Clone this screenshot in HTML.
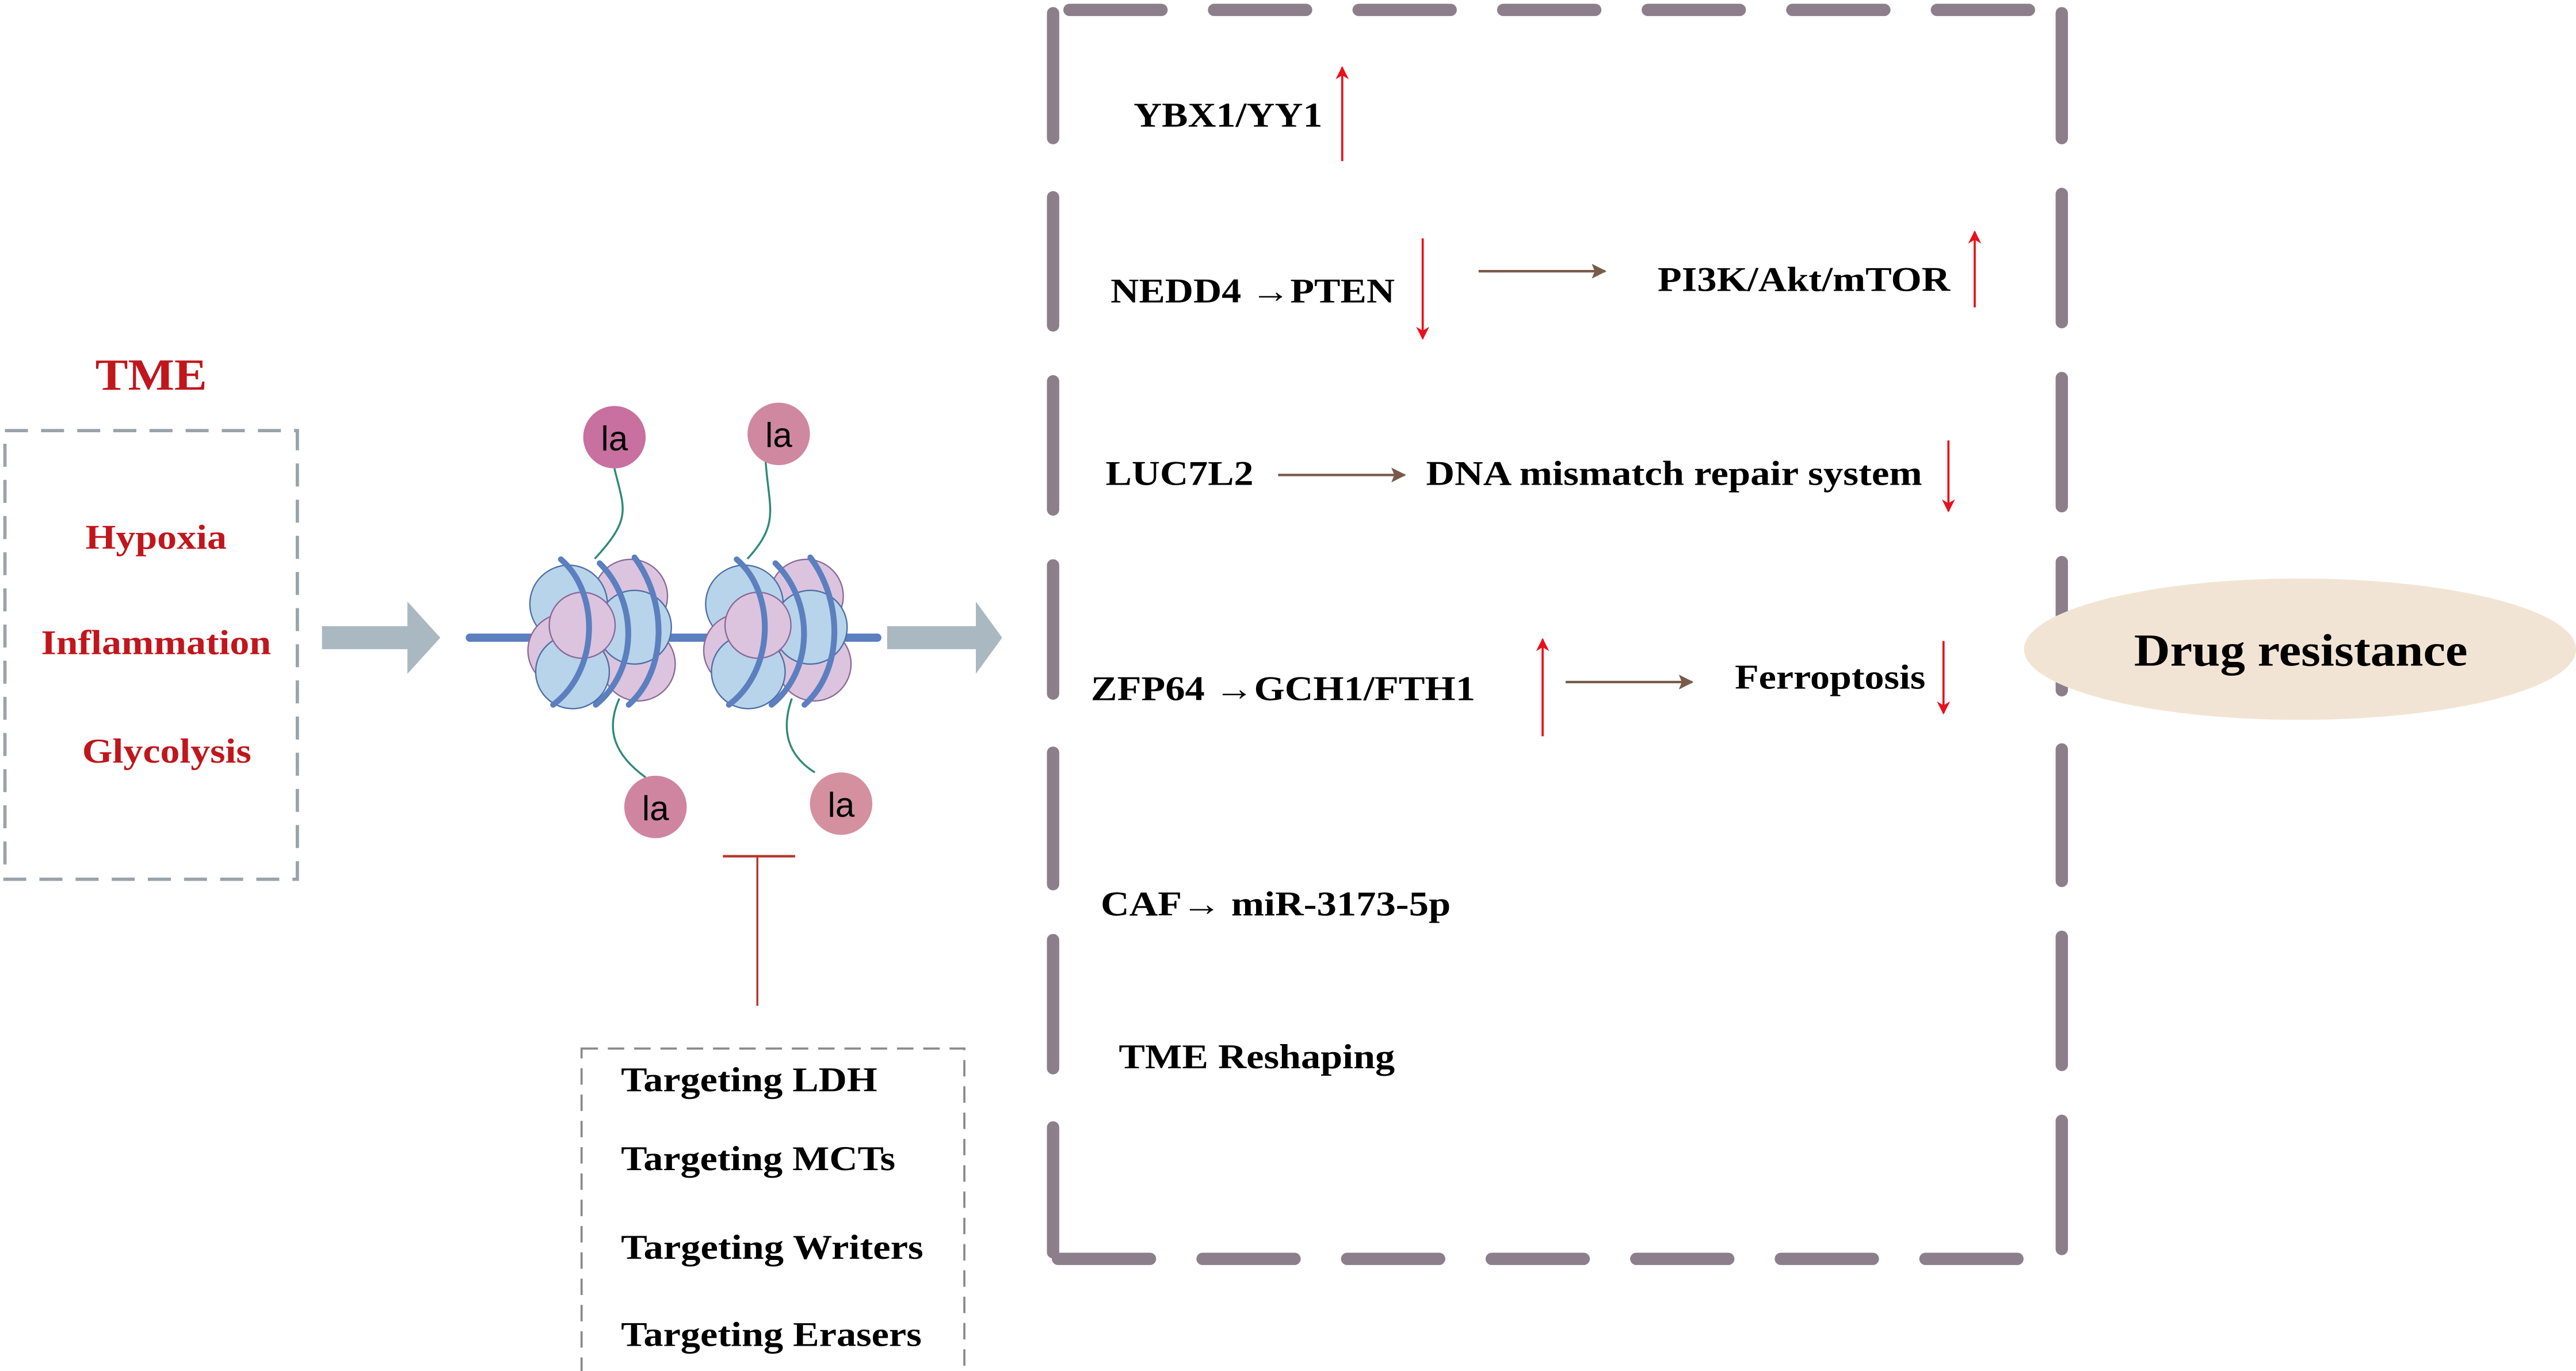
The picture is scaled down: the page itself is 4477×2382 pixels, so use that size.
<!DOCTYPE html>
<html><head><meta charset="utf-8"><style>html,body{margin:0;padding:0;background:#fff}svg{display:block}</style></head>
<body>
<svg xmlns="http://www.w3.org/2000/svg" width="4477" height="2382" viewBox="0 0 1568 834.2">
<defs>
<marker id="rh" viewBox="0 0 10 10" refX="9" refY="5" markerWidth="12" markerHeight="8" orient="auto" markerUnits="userSpaceOnUse"><path d="M0,0 L10,5 L0,10 L3,5 Z" fill="#e8101c"/></marker>
<marker id="bh" viewBox="0 0 10 10" refX="9" refY="5" markerWidth="9" markerHeight="9" orient="auto" markerUnits="userSpaceOnUse"><path d="M0,0 L10,5 L0,10 L2,5 Z" fill="#7a5a4a"/></marker>
<g id="nuc">
<circle cx="16" cy="-18" r="19" fill="#dcc4de" stroke="#8a6a9a" stroke-width="0.7"/>
<circle cx="-16" cy="-14" r="20" fill="#b8d4ea" stroke="#4d6fa8" stroke-width="0.7"/>
<circle cx="20" cy="17" r="19" fill="#dcc4de" stroke="#8a6a9a" stroke-width="0.7"/>
<circle cx="-18" cy="10" r="19" fill="#dcc4de" stroke="#8a6a9a" stroke-width="0.7"/>
<circle cx="-14" cy="21" r="19" fill="#b8d4ea" stroke="#4d6fa8" stroke-width="0.7"/>
<circle cx="18" cy="-2" r="19" fill="#b8d4ea" stroke="#4d6fa8" stroke-width="0.7"/>
<circle cx="-9" cy="-3" r="17" fill="#dcc4de" stroke="#8a6a9a" stroke-width="0.7"/>
<path d="M-20,-37 C0,-20 0,20 -24,38" fill="none" stroke="#5b7fbf" stroke-width="3" stroke-linecap="round"/>
<path d="M0,-35 C20,-15 20,20 -2,38" fill="none" stroke="#5b7fbf" stroke-width="3" stroke-linecap="round"/>
<path d="M18,-38 C35,-15 35,20 15,38" fill="none" stroke="#5b7fbf" stroke-width="3" stroke-linecap="round"/>
</g>
</defs>

<text x="58" y="237" textLength="68" lengthAdjust="spacingAndGlyphs" font-family="Liberation Serif, serif" font-weight="bold" font-size="27" fill="#c0161c">TME</text>
<rect x="3" y="262" width="178" height="273" fill="none" stroke="#9aa3ab" stroke-width="2" stroke-dasharray="14,8"/>
<g font-family="Liberation Serif, serif" font-weight="bold" font-size="21" fill="#c0161c">
<text x="52" y="334" textLength="86" lengthAdjust="spacingAndGlyphs">Hypoxia</text>
<text x="25" y="398" textLength="140" lengthAdjust="spacingAndGlyphs">Inflammation</text>
<text x="50" y="464" textLength="103" lengthAdjust="spacingAndGlyphs">Glycolysis</text>
</g>

<path d="M196,381 L248,381 L248,366 L268,388 L248,410 L248,395 L196,395 Z" fill="#aab8c2"/>
<path d="M540,381 L594,381 L594,366 L610,388 L594,410 L594,395 L540,395 Z" fill="#aab8c2"/>

<line x1="286" y1="388" x2="534" y2="388" stroke="#5b7fbf" stroke-width="5" stroke-linecap="round"/>
<path d="M374,285 C380,310 385,315 362,340" fill="none" stroke="#2e8a78" stroke-width="1.2"/>
<path d="M466,280 C468,310 475,318 455,340" fill="none" stroke="#2e8a78" stroke-width="1.2"/>
<path d="M377,425 C368,445 375,460 393,473" fill="none" stroke="#2e8a78" stroke-width="1.2"/>
<path d="M482,425 C475,445 480,460 496,470" fill="none" stroke="#2e8a78" stroke-width="1.2"/>
<g transform="translate(365,384) scale(1.18)"><use href="#nuc"/></g>
<g transform="translate(472,384) scale(1.18)"><use href="#nuc"/></g>
<g font-family="Liberation Sans, sans-serif" font-size="21" text-anchor="middle" fill="#000">
<circle cx="374" cy="266" r="19" fill="#c8709f"/><text x="374" y="274">la</text>
<circle cx="474" cy="264" r="19" fill="#cf88a0"/><text x="474" y="272">la</text>
<circle cx="399" cy="491" r="19" fill="#cf85a0"/><text x="399" y="499">la</text>
<circle cx="512" cy="489" r="19" fill="#d4909f"/><text x="512" y="497">la</text>
</g>

<line x1="440" y1="521" x2="484" y2="521" stroke="#b5342a" stroke-width="1.5"/>
<line x1="461" y1="521" x2="461" y2="612" stroke="#b5342a" stroke-width="1.2"/>
<rect x="354" y="638" width="233" height="210" fill="none" stroke="#8a8a8a" stroke-width="1.3" stroke-dasharray="10,6"/>
<g font-family="Liberation Serif, serif" font-weight="bold" font-size="21" fill="#000">
<text x="378" y="664" textLength="156" lengthAdjust="spacingAndGlyphs">Targeting LDH</text>
<text x="378" y="712" textLength="167" lengthAdjust="spacingAndGlyphs">Targeting MCTs</text>
<text x="378" y="766" textLength="184" lengthAdjust="spacingAndGlyphs">Targeting Writers</text>
<text x="378" y="819" textLength="183" lengthAdjust="spacingAndGlyphs">Targeting Erasers</text>
</g>

<g stroke="#8c7f8b" stroke-width="7.5" stroke-linecap="round" fill="none">
<line x1="651" y1="6" x2="1250" y2="6" stroke-dasharray="56,32"/>
<line x1="644" y1="766" x2="1252" y2="766" stroke-dasharray="56,32"/>
<line x1="641" y1="8" x2="641" y2="84"/><line x1="641" y1="120" x2="641" y2="198"/><line x1="641" y1="232" x2="641" y2="310"/><line x1="641" y1="344" x2="641" y2="422"/><line x1="641" y1="458" x2="641" y2="538"/><line x1="641" y1="572" x2="641" y2="650"/><line x1="641" y1="686" x2="641" y2="762"/>
<line x1="1255" y1="8" x2="1255" y2="84"/><line x1="1255" y1="118" x2="1255" y2="196"/><line x1="1255" y1="230" x2="1255" y2="308"/><line x1="1255" y1="342" x2="1255" y2="420"/><line x1="1255" y1="456" x2="1255" y2="536"/><line x1="1255" y1="570" x2="1255" y2="648"/><line x1="1255" y1="682" x2="1255" y2="760"/>
</g>

<g font-family="Liberation Serif, serif" font-weight="bold" font-size="21" fill="#000">
<text x="690" y="77" textLength="115" lengthAdjust="spacingAndGlyphs">YBX1/YY1</text>
<text x="676" y="184" textLength="173" lengthAdjust="spacingAndGlyphs">NEDD4 →PTEN</text>
<text x="1009" y="177" textLength="178" lengthAdjust="spacingAndGlyphs">PI3K/Akt/mTOR</text>
<text x="673" y="295" textLength="90" lengthAdjust="spacingAndGlyphs">LUC7L2</text>
<text x="868" y="295" textLength="302" lengthAdjust="spacingAndGlyphs">DNA mismatch repair system</text>
<text x="664" y="426" textLength="234" lengthAdjust="spacingAndGlyphs">ZFP64 →GCH1/FTH1</text>
<text x="1056" y="419" textLength="116" lengthAdjust="spacingAndGlyphs">Ferroptosis</text>
<text x="670" y="557" textLength="213" lengthAdjust="spacingAndGlyphs">CAF→ miR-3173-5p</text>
<text x="681" y="650" textLength="168" lengthAdjust="spacingAndGlyphs">TME Reshaping</text>
</g>
<g stroke="#e8101c" stroke-width="1.3">
<line x1="817" y1="98" x2="817" y2="41" marker-end="url(#rh)"/>
<line x1="866" y1="145" x2="866" y2="206" marker-end="url(#rh)"/>
<line x1="1202" y1="187" x2="1202" y2="141" marker-end="url(#rh)"/>
<line x1="1186" y1="268" x2="1186" y2="311" marker-end="url(#rh)"/>
<line x1="939" y1="448" x2="939" y2="389" marker-end="url(#rh)"/>
<line x1="1183" y1="390" x2="1183" y2="434" marker-end="url(#rh)"/>
</g>
<g stroke="#7a5a4a" stroke-width="1.5">
<line x1="900" y1="165" x2="977" y2="165" marker-end="url(#bh)"/>
<line x1="778" y1="289" x2="855" y2="289" marker-end="url(#bh)"/>
<line x1="953" y1="415" x2="1030" y2="415" marker-end="url(#bh)"/>
</g>

<ellipse cx="1400" cy="395" rx="168" ry="43" fill="#f2e4d4"/>
<text x="1299" y="405" textLength="203" lengthAdjust="spacingAndGlyphs" font-family="Liberation Serif, serif" font-weight="bold" font-size="28" fill="#000">Drug resistance</text>
</svg>
</body></html>
